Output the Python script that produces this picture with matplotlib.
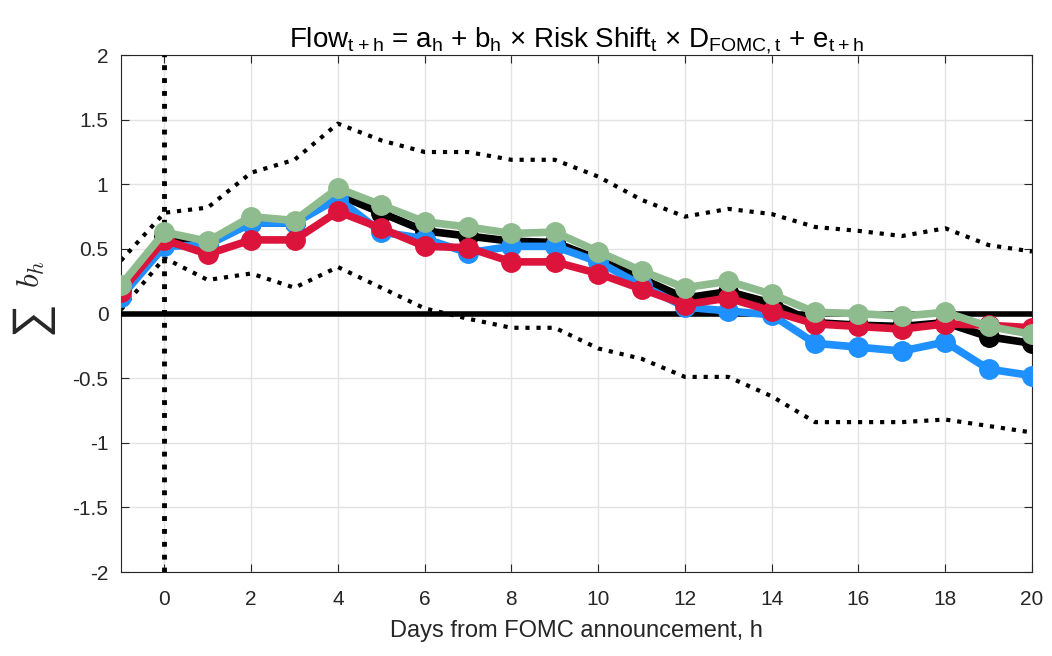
import matplotlib
matplotlib.use("Agg")
from matplotlib import pyplot as plt

plt.rcParams['font.family'] = ['Liberation Sans', 'DejaVu Sans']
plt.rcParams['mathtext.default'] = 'regular'
plt.rcParams['axes.unicode_minus'] = False

days = list(range(-1, 21))

# cumulative coefficients, one series per specification
black = [0.20, 0.60, 0.54, 0.70, 0.70, 0.92, 0.78, 0.64, 0.60, 0.56, 0.55, 0.42, 0.27, 0.12, 0.17, 0.08,
         -0.07, -0.09, -0.10, -0.07, -0.18, -0.23]
blue = [0.13, 0.52, 0.53, 0.70, 0.70, 0.89, 0.63, 0.58, 0.47, 0.52, 0.52, 0.40, 0.22, 0.05, 0.02, -0.01,
        -0.23, -0.26, -0.29, -0.22, -0.43, -0.48]
red = [0.17, 0.57, 0.46, 0.57, 0.57, 0.79, 0.66, 0.52, 0.51, 0.40, 0.40, 0.31, 0.19, 0.07, 0.12, 0.02,
       -0.08, -0.10, -0.12, -0.08, -0.09, -0.11]
green = [0.22, 0.63, 0.56, 0.75, 0.72, 0.97, 0.84, 0.71, 0.67, 0.62, 0.63, 0.48, 0.33, 0.20, 0.25, 0.15,
         0.01, 0.0, -0.02, 0.01, -0.10, -0.16]

# confidence band of the black series
upper = [0.41, 0.78, 0.82, 1.09, 1.19, 1.47, 1.34, 1.25, 1.25, 1.19, 1.19, 1.06, 0.88, 0.75, 0.81, 0.77,
         0.67, 0.64, 0.60, 0.66, 0.53, 0.48]
lower = [0.03, 0.43, 0.26, 0.31, 0.20, 0.36, 0.20, 0.04, -0.04, -0.11, -0.11, -0.27, -0.35, -0.49, -0.49, -0.64,
         -0.84, -0.84, -0.84, -0.82, -0.87, -0.92]

fig = plt.figure(figsize=(10.52, 6.56), dpi=100)
ax = fig.add_axes([0.115, 0.128, 0.866, 0.788])

ax.plot(days, upper, color='black', linestyle=':', linewidth=3, zorder=2)
ax.plot(days, lower, color='black', linestyle=':', linewidth=3, zorder=2)
ax.axhline(0, color='black', linewidth=4, zorder=3)
ax.axvline(0, color='black', linestyle=':', linewidth=3.5, zorder=3)

for vals, col in [(black, 'black'), (blue, '#1e90ff'), (red, '#dc143c'), (green, '#8fbc8f')]:
    ax.plot(days, vals, color=col, linewidth=5.5, marker='o', markersize=14, zorder=4)

ax.set_xlim(-1, 20)
ax.set_ylim(-2, 2)
ax.set_xticks(range(0, 21, 2))
ax.set_yticks([-2, -1.5, -1, -0.5, 0, 0.5, 1, 1.5, 2])
ax.set_yticklabels(['-2', '-1.5', '-1', '-0.5', '0', '0.5', '1', '1.5', '2'])
ax.grid(True, color='#e3e3e3', linewidth=1)
ax.set_axisbelow(True)
ax.tick_params(direction='in', top=True, right=True, labelsize=15, length=6, colors='#262626')
ax.tick_params(axis='x', pad=13)
ax.tick_params(axis='y', pad=9)
for s in ax.spines.values():
    s.set_color('#262626')

ax.set_xlabel('Days from FOMC announcement, h', fontsize=17, color='#262626', labelpad=8)
# y label: big sum sign with b_h raised after it
fig.text(0.033, 0.509, r'$\sum$', fontsize=34, math_fontfamily='cm', color='#262626',
         rotation=90, ha='center', va='center')
fig.text(0.030, 0.583, r'$\mathit{b_h}$', fontsize=23, math_fontfamily='cm', color='#262626',
         rotation=90, ha='center', va='center')
ax.set_title('Flow$_{t+h}$ = a$_h$ + b$_h$ $\\times$ Risk Shift$_t$ $\\times$ D$_{FOMC,t}$ + e$_{t+h}$',
             fontsize=20, pad=6)

fig.savefig('out.png')
